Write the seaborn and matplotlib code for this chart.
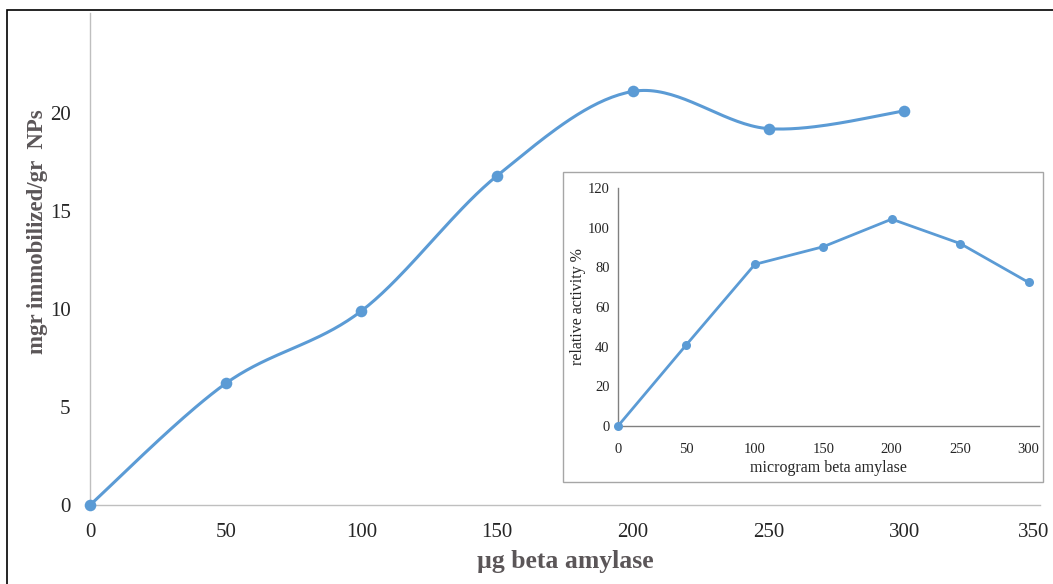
import numpy as np
import pandas as pd
import matplotlib
matplotlib.use("Agg")
import matplotlib.pyplot as plt
import matplotlib.transforms as mtransforms
import seaborn as sns
from matplotlib.patches import Rectangle

# ---- data ----
amylase_ug = [0, 50, 100, 150, 200, 250, 300]
immobilized = [0, 6.2, 9.9, 16.8, 21.1, 19.2, 20.1]
inset_amylase = [0, 50, 100, 150, 200, 250, 300]
relative_activity = [0, 41, 81.5, 90.4, 104.3, 92, 72.4]
main_xticks = [0, 50, 100, 150, 200, 250, 300, 350]
main_yticks = [0, 5, 10, 15, 20]
inset_xticks = [0, 50, 100, 150, 200, 250, 300]
inset_yticks = [0, 20, 40, 60, 80, 100, 120]

BLUE = "#5B9BD5"
AXIS = "#BFBFBF"
LABEL = "#5B5658"
TICK = "#262626"

sns.set_theme(style="white")
plt.rcParams['font.family'] = ['Liberation Serif', 'DejaVu Serif']


def smooth_curve(xs, ys, n=40):
    """Excel-style smoothed line (Bezier with 1/6 tangent control points)."""
    P = np.column_stack([xs, ys]).astype(float)
    P_ext = np.vstack([P[0], P, P[-1]])
    out = []
    for i in range(1, len(P_ext) - 2):
        p0, p1, p2, p3 = P_ext[i - 1], P_ext[i], P_ext[i + 1], P_ext[i + 2]
        c1 = p1 + (p2 - p0) / 6.0
        c2 = p2 - (p3 - p1) / 6.0
        t = np.linspace(0, 1, n)[:, None]
        seg = ((1 - t) ** 3) * p1 + 3 * ((1 - t) ** 2) * t * c1 + 3 * (1 - t) * t ** 2 * c2 + t ** 3 * p2
        out.append(seg if i == 1 else seg[1:])
    c = np.vstack(out)
    return c[:, 0], c[:, 1]


fig = plt.figure(figsize=(10.53, 5.84), dpi=100)

# outer frame
fig.patches.append(Rectangle((7 / 1053, -0.01), 1.0, (584 - 10) / 584 + 0.01,
                             transform=fig.transFigure, fill=False,
                             edgecolor="black", linewidth=1.2, zorder=0))

# ---- main axes ----
ax = fig.add_axes([90 / 1053, 1 - 505 / 584, (1040 - 90) / 1053, (505 - 13) / 584])
ax.set_facecolor("none")
df_main = pd.DataFrame({"x": amylase_ug, "y": immobilized})
sx, sy = smooth_curve(df_main["x"], df_main["y"])
ax.plot(sx, sy, color=BLUE, linewidth=2.2, solid_capstyle="round", zorder=3, clip_on=False)
sns.scatterplot(data=df_main, x="x", y="y", ax=ax, color=BLUE, s=70,
                edgecolor=BLUE, linewidth=0, zorder=4, legend=False, clip_on=False)
ax.set_xlim(0, 350)
ax.set_ylim(0, 25.1)
ax.set_xticks(main_xticks)
ax.set_yticks(main_yticks)
ax.tick_params(axis="both", length=0, labelsize=15, colors=TICK)
ax.tick_params(axis="x", pad=13)
ax.tick_params(axis="y", pad=14)
for side in ["top", "right"]:
    ax.spines[side].set_visible(False)
for side in ["left", "bottom"]:
    ax.spines[side].set_color(AXIS)
    ax.spines[side].set_linewidth(1.0)
ax.set_xlabel("µg beta amylase", fontsize=18.5, fontweight="bold", color=LABEL, labelpad=6)
ax.set_ylabel("mgr immobilized/gr  NPs", fontsize=16.5, fontweight="bold", color=LABEL)
ax.yaxis.set_label_coords(-0.044, 0.555)
ax.grid(False)
# keep the last x tick label inside the frame
last = ax.get_xticklabels()[-1]
last.set_transform(last.get_transform() + mtransforms.ScaledTranslation(-6 / 100, 0, fig.dpi_scale_trans))

# ---- inset frame ----
fig.patches.append(Rectangle((563 / 1053, 1 - 482 / 584), (1043 - 563) / 1053, (482 - 172) / 584,
                             transform=fig.transFigure, facecolor="white",
                             edgecolor="#A6A6A6", linewidth=1.0, zorder=5))

# ---- inset axes ----
axi = fig.add_axes([618 / 1053, 1 - 426 / 584, (1039 - 618) / 1053, (426 - 188) / 584])
axi.set_zorder(6)
axi.set_facecolor("none")
df_in = pd.DataFrame({"x": inset_amylase, "y": relative_activity})
sns.lineplot(data=df_in, x="x", y="y", ax=axi, color=BLUE, linewidth=2.0,
             marker="o", markersize=6.5, markeredgewidth=0, zorder=3, clip_on=False)
axi.set_xlim(0, 307.6)
axi.set_ylim(0, 120)
axi.set_xticks(inset_xticks)
axi.set_yticks(inset_yticks)
axi.tick_params(axis="both", length=0, labelsize=10.5, colors=TICK)
axi.tick_params(axis="x", pad=12)
axi.tick_params(axis="y", pad=6)
for side in ["top", "right"]:
    axi.spines[side].set_visible(False)
for side in ["left", "bottom"]:
    axi.spines[side].set_color("#808080")
    axi.spines[side].set_linewidth(1.0)
axi.set_xlabel("microgram beta amylase", fontsize=11.5, color=TICK, labelpad=3)
axi.set_ylabel("relative activity %", fontsize=11.5, color=TICK, labelpad=1)
axi.grid(False)

fig.savefig("out.png", dpi=100)
